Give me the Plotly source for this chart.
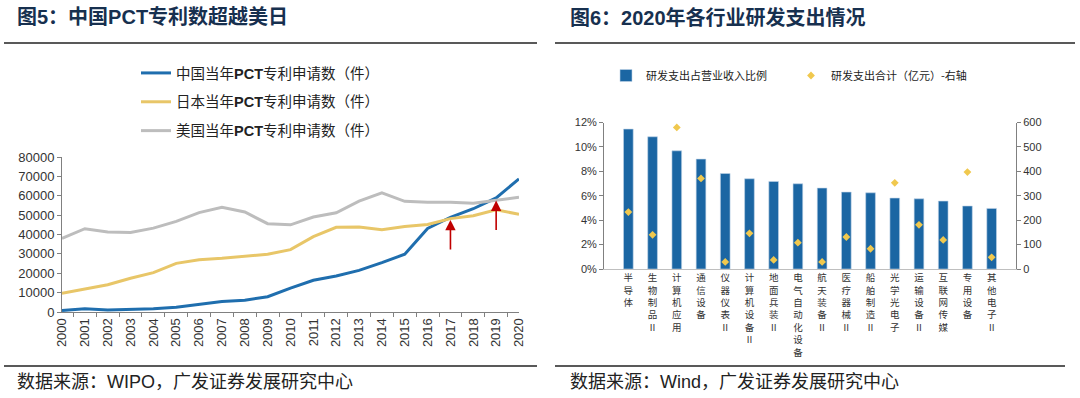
import plotly.graph_objects as go

# ---------------- data: left chart ----------------
years = [str(y) for y in range(2000, 2021)]
china = [780, 1700, 1000, 1300, 1700, 2500, 3900, 5400, 6100, 7900, 12300,
         16400, 18600, 21500, 25500, 29800, 43100, 48900, 53300, 58900, 68700]
japan = [9600, 11900, 14100, 17400, 20300, 25100, 27000, 27700, 28800, 29800, 32200,
         38900, 43700, 43900, 42400, 44100, 45200, 48200, 49700, 52700, 50500]
usa = [38000, 43000, 41300, 41000, 43300, 46800, 51300, 54000, 51600, 45600, 45000,
       49000, 51200, 57200, 61500, 57100, 56600, 56600, 56100, 57800, 59200]
arrow_years = ["2017", "2019"]

# ---------------- data: right chart ----------------
industries = ["半导体", "生物制品Ⅱ", "计算机应用", "通信设备", "仪器仪表Ⅱ", "计算机设备Ⅱ",
              "地面兵装Ⅱ", "电气自动化设备", "航天装备Ⅱ", "医疗器械Ⅱ", "船舶制造Ⅱ",
              "光学光电子", "运输设备Ⅱ", "互联网传媒", "专用设备", "其他电子Ⅱ"]
rd_ratio = [11.46, 10.83, 9.68, 9.0, 7.82, 7.39, 7.17, 6.98, 6.63, 6.3, 6.24,
            5.81, 5.75, 5.56, 5.16, 4.96]
rd_total = [233, 140, 580, 371, 29, 146, 37, 108, 29, 131, 83, 353, 181, 119, 397, 48]

FONT = "Liberation Sans, Noto Sans CJK SC, sans-serif"
W, H = 1080, 398

def px_x(p):
    return p / W

def px_y(p):
    return 1 - p / H

fig = go.Figure()

fig.add_trace(go.Scatter(x=years, y=china, mode="lines", name="中国当年<b>PCT</b>专利申请数（件）",
                         line=dict(color="#1F6EAE", width=3), xaxis="x", yaxis="y",
                         legend="legend", legendgroup="a"))
fig.add_trace(go.Scatter(x=years, y=japan, mode="lines", name="日本当年<b>PCT</b>专利申请数（件）",
                         line=dict(color="#E8C668", width=3), xaxis="x", yaxis="y",
                         legend="legend", legendgroup="b"))
fig.add_trace(go.Scatter(x=years, y=usa, mode="lines", name="美国当年<b>PCT</b>专利申请数（件）",
                         line=dict(color="#BDBDBD", width=3), xaxis="x", yaxis="y",
                         legend="legend", legendgroup="c"))

labels_v = ["<br>".join(list(s)) for s in industries]
fig.add_trace(go.Bar(x=labels_v, y=[v / 100 for v in rd_ratio], name="研发支出占营业收入比例",
                     marker=dict(color="#1B66A3", line=dict(color="#BFD4E8", width=0.6)),
                     xaxis="x2", yaxis="y2", legend="legend2"))
fig.add_trace(go.Scatter(x=labels_v, y=rd_total, mode="markers", name="研发支出合计（亿元）-右轴",
                         marker=dict(color="#F0C84E", size=6, symbol="diamond"),
                         xaxis="x2", yaxis="y3", legend="legend2"))

# arrows (tip taken from China data)
annotations = []
for yr in arrow_years:
    i = years.index(yr)
    tip = china[i] - 1400
    annotations.append(dict(x=i, y=tip, ax=i, ay=tip - 16000, xref="x", yref="y",
                            axref="x", ayref="y", showarrow=True, arrowhead=2,
                            arrowsize=1.3, arrowwidth=1.6, arrowcolor="#C00000", text=""))

title_col = "#17304F"
annotations += [
    dict(text="<b>图5：中国PCT专利数超越美日</b>", x=px_x(15), y=px_y(17), xref="paper", yref="paper",
         xanchor="left", yanchor="middle", showarrow=False, font=dict(size=20, color=title_col, family=FONT)),
    dict(text="<b>图6：2020年各行业研发支出情况</b>", x=px_x(568), y=px_y(17), xref="paper", yref="paper",
         xanchor="left", yanchor="middle", showarrow=False, font=dict(size=20, color=title_col, family=FONT)),
    dict(text="数据来源：WIPO，广发证券发展研究中心", x=px_x(15), y=px_y(382), xref="paper", yref="paper",
         xanchor="left", yanchor="middle", showarrow=False, font=dict(size=18, color="#222", family=FONT)),
    dict(text="数据来源：Wind，广发证券发展研究中心", x=px_x(568), y=px_y(382), xref="paper", yref="paper",
         xanchor="left", yanchor="middle", showarrow=False, font=dict(size=18, color="#222", family=FONT)),
]

shapes = [
    dict(type="line", xref="paper", yref="paper", x0=px_x(4), x1=px_x(537), y0=px_y(43), y1=px_y(43),
         line=dict(color="#222", width=1.5)),
    dict(type="line", xref="paper", yref="paper", x0=px_x(555), x1=px_x(1075), y0=px_y(43), y1=px_y(43),
         line=dict(color="#222", width=1.5)),
    dict(type="line", xref="paper", yref="paper", x0=px_x(4), x1=px_x(537), y0=px_y(366), y1=px_y(366),
         line=dict(color="#222", width=1.5)),
    dict(type="line", xref="paper", yref="paper", x0=px_x(555), x1=px_x(1065), y0=px_y(366), y1=px_y(366),
         line=dict(color="#222", width=1.5)),
]

axis_font = dict(family=FONT, size=13, color="#333")
small_font = dict(family=FONT, size=11, color="#333")

fig.update_layout(
    template="none",
    width=W, height=H, margin=dict(l=0, r=0, t=0, b=0, pad=0, autoexpand=False),
    paper_bgcolor="white", plot_bgcolor="white",
    font=dict(family=FONT),
    showlegend=True,
    bargap=0.6,
    annotations=annotations, shapes=shapes,
    xaxis=dict(domain=[px_x(62), px_x(519)], type="category", tickson="boundaries", ticks="outside",
               ticklen=4, tickcolor="#808080", tickangle=-90, showline=True, linecolor="#808080",
               showgrid=False, tickfont=axis_font, anchor="y", automargin=False),
    yaxis=dict(domain=[px_y(312), px_y(157)], range=[0, 80000], dtick=10000, tickformat="d",
               showline=True, linecolor="#808080", ticks="outside", ticklen=4, tickcolor="#808080",
               showgrid=False, zeroline=False, tickfont=axis_font, anchor="x", automargin=False),
    xaxis2=dict(domain=[px_x(604), px_x(1016)], type="category", showline=True, linecolor="#BFBFBF",
                ticks="", showgrid=False, tickangle=0, tickfont=dict(family="Noto Sans CJK SC", size=9.5, color="#333"),
                anchor="y2", automargin=False),
    yaxis2=dict(domain=[px_y(269), px_y(122.5)], range=[0, 0.12], dtick=0.02, tickformat=".0%",
                showline=True, linecolor="#808080", ticks="outside", ticklen=4, tickcolor="#808080",
                showgrid=False, zeroline=False, tickfont=small_font, anchor="x2", automargin=False),
    yaxis3=dict(domain=[px_y(269), px_y(122.5)], range=[0, 600], dtick=100, overlaying="y2", side="right",
                showline=True, linecolor="#808080", ticks="outside", ticklen=4, tickcolor="#808080",
                showgrid=False, zeroline=False, tickfont=small_font, anchor="x2", automargin=False),
    legend=dict(x=px_x(136), y=px_y(57), xanchor="left", yanchor="top", orientation="v",
                font=dict(family=FONT, size=14.5, color="#222"), itemwidth=30, tracegroupgap=7,
                bgcolor="rgba(0,0,0,0)"),
    legend2=dict(x=px_x(606), y=px_y(61), xanchor="left", yanchor="top", orientation="h",
                 font=dict(family="Noto Sans CJK SC", size=11, color="#222"), itemwidth=30,
                 bgcolor="rgba(0,0,0,0)", entrywidth=140),
)

fig.write_html("out.html", config={"displayModeBar": False},
               post_script="document.body.style.margin='0';")
